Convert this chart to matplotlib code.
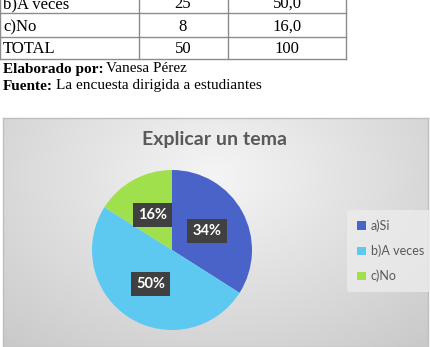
import matplotlib.pyplot as plt
import numpy as np

# data
categories = ['a)Si', 'b)A veces', 'c)No']
counts = [17, 25, 8]
colors = ['#4a63c9', '#5dc9f1', '#9fe04c']

table_rows = ['b)A veces', 'c)No', 'TOTAL']
table_freq = ['25', '8', '50']
table_pct = ['50,0', '16,0', '100']

W, H = 431, 347
fig = plt.figure(figsize=(W / 100, H / 100), dpi=100)
fig.patch.set_facecolor('white')


def fx(x):
    return x / W


def fy(y):
    return 1 - y / H


serif = 'Liberation Serif'

# table fragment at the top (first row is cut by the page edge)
row_y = [4, 27, 49]
for name, fr, pc, y in zip(table_rows, table_freq, table_pct, row_y):
    fig.text(fx(3), fy(y), name, family=serif, fontsize=12, va='center', ha='left')
    fig.text(fx(183), fy(y), fr, family=serif, fontsize=12, va='center', ha='center')
    fig.text(fx(287), fy(y), pc, family=serif, fontsize=12, va='center', ha='center')

lc = '#8c8c8c'
for y in [12.5, 37, 59]:
    fig.add_artist(plt.Line2D([fx(0), fx(346)], [fy(y), fy(y)], color=lc, lw=1))
for x in [0.5, 139, 228, 346]:
    fig.add_artist(plt.Line2D([fx(x), fx(x)], [fy(0), fy(59)], color=lc, lw=1))

fig.text(fx(3), fy(69), 'Elaborado por:', family=serif, fontsize=11, weight='bold', va='center')
fig.text(fx(106), fy(69), 'Vanesa Pérez', family=serif, fontsize=11, va='center')
fig.text(fx(3), fy(86), 'Fuente:', family=serif, fontsize=11, weight='bold', va='center')
fig.text(fx(56), fy(86), 'La encuesta dirigida a estudiantes', family=serif, fontsize=11, va='center')

# chart area with grey gradient
box_top = 118
bg = fig.add_axes([fx(3), 0, fx(428) - fx(3), fy(box_top)])
yy, xx = np.mgrid[0:1:200j, 0:1:300j]
d = np.sqrt(((xx - 0.5) / 0.75) ** 2 + ((yy - 0.25) / 1.0) ** 2)
shade = 0.96 - 0.17 * np.clip(d, 0, 1.2)
img = np.dstack([shade, shade, shade])
bg.imshow(img, extent=[0, 1, 0, 1], aspect='auto', origin='upper')
bg.set_xlim(0, 1)
bg.set_ylim(0, 1)
bg.set_xticks([])
bg.set_yticks([])
for s in bg.spines.values():
    s.set_color('#bfbfbf')
    s.set_linewidth(1)

fig.text(fx(215), fy(140), 'Explicar un tema', family='Lato', fontsize=14,
         weight='bold', color='#595959', ha='center', va='center')

# pie
ax = fig.add_axes([fx(92), fy(330), fx(252) - fx(92), (330 - 170) / H])
wedges, texts, autotexts = ax.pie(counts, colors=colors, startangle=90, counterclock=False,
                                  autopct='%1.0f%%', pctdistance=0.5,
                                  wedgeprops=dict(linewidth=0))
for t in autotexts:
    t.set_color('white')
    t.set_fontsize(10.5)
    t.set_fontweight('bold')
    t.set_family('Lato')
    t.set_bbox(dict(boxstyle='square,pad=0.35', facecolor='#404040', edgecolor='none'))
ax.set_xlim(-1, 1)
ax.set_ylim(-1, 1)
ax.set_aspect('equal')

# legend
leg = fig.legend(wedges, categories, loc='center left',
                 bbox_to_anchor=(fx(341), fy(251)), frameon=True,
                 prop={'family': 'Lato', 'size': 9}, labelcolor='#595959',
                 handlelength=0.7, handleheight=0.7, handletextpad=0.4,
                 labelspacing=1.0, borderpad=0.8)
leg.get_frame().set_facecolor('#ececec')
leg.get_frame().set_edgecolor('none')
leg.get_frame().set_alpha(0.8)

fig.savefig('out.png', dpi=100)
